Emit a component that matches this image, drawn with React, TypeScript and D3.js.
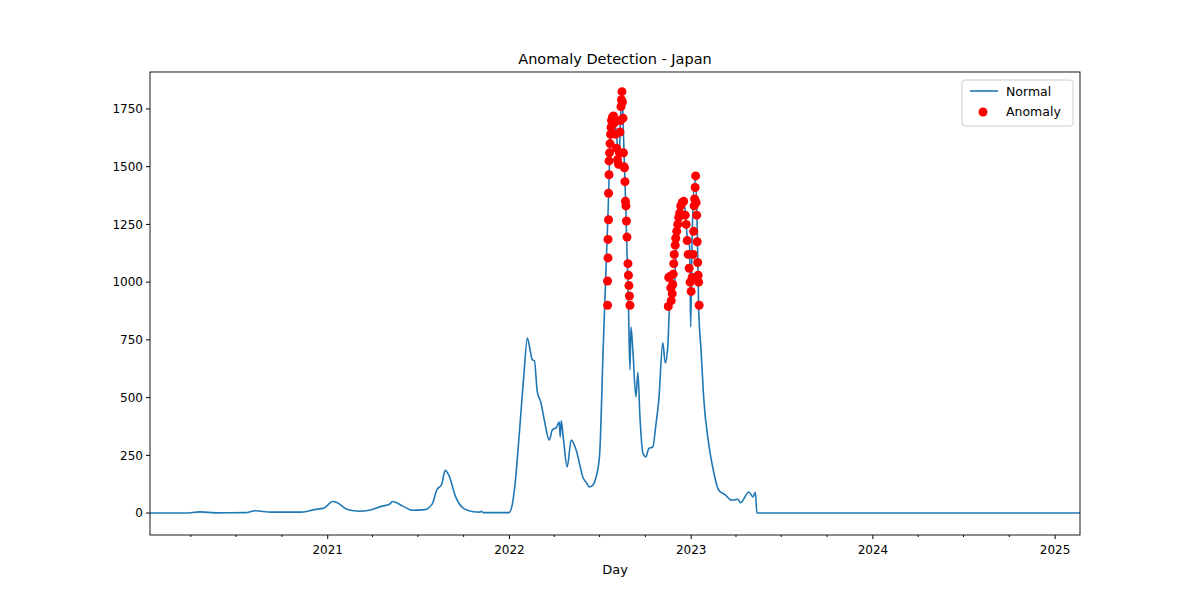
import React from 'react';
import * as d3 from 'd3';

const lineDates = [
  '2020-01-10', '2020-03-20', '2020-04-20', '2020-05-20', '2020-07-20', '2020-08-08', '2020-09-10', '2020-11-10',
  '2020-12-05', '2020-12-25', '2021-01-11', '2021-01-20', '2021-02-10', '2021-03-05', '2021-03-25', '2021-04-20',
  '2021-05-05', '2021-05-11', '2021-06-01', '2021-06-20', '2021-07-15', '2021-07-30', '2021-08-08', '2021-08-18',
  '2021-08-25', '2021-09-01', '2021-09-15', '2021-10-01', '2021-10-20', '2021-11-03', '2021-11-06', '2021-11-09',
  '2021-12-31', '2022-01-06', '2022-01-12', '2022-01-21', '2022-01-30', '2022-02-06', '2022-02-12', '2022-02-16',
  '2022-02-20', '2022-02-26', '2022-03-05', '2022-03-12', '2022-03-22', '2022-03-28', '2022-04-05', '2022-04-11',
  '2022-04-13', '2022-04-15', '2022-04-19', '2022-04-27', '2022-05-05', '2022-05-15', '2022-05-29', '2022-06-05',
  '2022-06-10', '2022-06-17', '2022-06-24', '2022-07-01', '2022-07-08', '2022-07-13', '2022-07-18', '2022-07-24',
  '2022-07-30', '2022-08-04', '2022-08-09', '2022-08-12', '2022-08-15', '2022-08-18', '2022-08-23', '2022-08-28',
  '2022-08-31', '2022-09-02', '2022-09-06', '2022-09-12', '2022-09-16', '2022-09-20', '2022-09-26', '2022-10-02',
  '2022-10-08', '2022-10-16', '2022-10-22', '2022-10-28', '2022-11-05', '2022-11-10', '2022-11-15', '2022-11-18',
  '2022-11-21', '2022-11-27', '2022-12-02', '2022-12-07', '2022-12-12', '2022-12-17', '2022-12-24', '2022-12-29',
  '2022-12-31', '2023-01-03', '2023-01-09', '2023-01-13', '2023-01-16', '2023-01-21', '2023-01-26', '2023-02-05',
  '2023-02-15', '2023-02-25', '2023-03-10', '2023-03-23', '2023-04-05', '2023-04-10', '2023-04-27', '2023-05-05',
  '2023-05-10', '2023-05-13', '2024-01-01', '2025-02-20',
];
const lineValues = [
  0, 0, 5, 1, 2, 10, 4, 4,
  15, 22, 50, 45, 15, 8, 12, 30,
  38, 50, 30, 12, 15, 40, 100, 125,
  185, 165, 70, 20, 6, 4, 8, 2,
  2, 30, 120, 350, 600, 758, 700, 663,
  660, 524, 480, 403, 316, 360, 370, 394,
  330, 400, 330, 200, 316, 273, 152, 130,
  113, 120, 156, 250, 693, 1000, 1300, 1660,
  1700, 1640, 1517, 1700, 1820, 1640, 1300, 900,
  620, 806, 700, 503, 610, 420, 260, 243,
  280, 286, 380, 490, 737, 650, 720, 880,
  1010, 936, 1150, 1256, 1320, 1356, 1200, 1150,
  806, 1200, 1456, 1250, 893, 700, 503, 303,
  180, 100, 80, 56, 60, 45, 91, 70,
  90, 0, 0, 0,
];

const anomalyDates = [
  '2022-07-17', '2022-07-17', '2022-07-18', '2022-07-18', '2022-07-19', '2022-07-19', '2022-07-20', '2022-07-20',
  '2022-07-21', '2022-07-22', '2022-07-23', '2022-07-24', '2022-07-25', '2022-07-27', '2022-07-29', '2022-07-31',
  '2022-08-02', '2022-08-04', '2022-08-06', '2022-08-08', '2022-08-10', '2022-08-11', '2022-08-12', '2022-08-13',
  '2022-08-14', '2022-08-15', '2022-08-16', '2022-08-17', '2022-08-18', '2022-08-19', '2022-08-20', '2022-08-21',
  '2022-08-22', '2022-08-23', '2022-08-24', '2022-08-25', '2022-08-27', '2022-08-28', '2022-08-29', '2022-08-30',
  '2022-08-31',
  '2022-11-16', '2022-11-17', '2022-11-20', '2022-11-21', '2022-11-22', '2022-11-24', '2022-11-25', '2022-11-26',
  '2022-11-27', '2022-11-28', '2022-11-30', '2022-12-01', '2022-12-03', '2022-12-05', '2022-12-07', '2022-12-09',
  '2022-12-11', '2022-12-14', '2022-12-17', '2022-12-20', '2022-12-22', '2022-12-24', '2022-12-26', '2022-12-28',
  '2022-12-30', '2023-01-01', '2023-01-03', '2023-01-05', '2023-01-06', '2023-01-07', '2023-01-08', '2023-01-09',
  '2023-01-10', '2023-01-11', '2023-01-12', '2023-01-13', '2023-01-14', '2023-01-15', '2023-01-16', '2023-01-17',
];
const anomalyValues = [
  900, 1005, 1105, 1185, 1270, 1385, 1465, 1525,
  1560, 1600, 1640, 1670, 1700, 1715, 1720, 1690,
  1640, 1580, 1530, 1510, 1560, 1650, 1700, 1760,
  1790, 1825, 1780, 1710, 1560, 1500, 1495, 1435,
  1350, 1330, 1265, 1195, 1080, 1030, 985, 940,
  900,
  895, 1020, 1025, 975, 920, 950, 990, 1035,
  1080, 1120, 1160, 1190, 1220, 1250, 1280, 1300,
  1330, 1345, 1350, 1290, 1250, 1180, 1120, 1060,
  1000, 960, 1020, 1120, 1220, 1330, 1360, 1410,
  1460, 1345, 1290, 1175, 1085, 1030, 1000, 900,
];

const yTicks = [0, 250, 500, 750, 1000, 1250, 1500, 1750];

const W = 1200, H = 600;
const m = { l: 150, r: 1080, t: 72, b: 535 };
const font = 'DejaVu Sans, sans-serif';
const blue = '#1f77b4';

export default function App() {
  const parse = d3.utcParse('%Y-%m-%d');
  const x = d3.scaleUtc().domain([parse('2020-01-10')!, parse('2025-02-20')!]).range([m.l, m.r]);
  const y = d3.scaleLinear().domain([-95, 1910]).range([m.b, m.t]);
  const pts = lineDates.map((d, i) => [x(parse(d)!), y(lineValues[i])] as [number, number]);
  const line = d3.line().curve(d3.curveMonotoneX)(pts) || '';
  const years = d3.utcYear.range(parse('2021-01-01')!, parse('2025-02-20')!);
  const minors = d3.utcMonth.every(3)!.range(parse('2020-04-01')!, parse('2025-02-20')!)
    .filter((d) => d.getUTCMonth() !== 0);

  return (
    <svg width={W} height={H} style={{ position: 'absolute', left: 0, top: 0 }} fontFamily={font}>
      <rect width={W} height={H} fill="#fff" />
      <defs>
        <clipPath id="c"><rect x={m.l} y={m.t} width={m.r - m.l} height={m.b - m.t} /></clipPath>
      </defs>
      <path d={line} fill="none" stroke={blue} strokeWidth={1.6} clipPath="url(#c)" />
      {anomalyDates.map((d, i) => (
        <circle key={i} cx={x(parse(d)!)} cy={y(anomalyValues[i])} r={4.5} fill="red" />
      ))}
      <rect x={m.l} y={m.t} width={m.r - m.l} height={m.b - m.t} fill="none" stroke="#000" strokeWidth={0.9} />
      {yTicks.map((t) => (
        <g key={t} transform={`translate(${m.l},${y(t)})`}>
          <line x2={-4} stroke="#000" />
          <text x={-7} dy="0.35em" textAnchor="end" fontSize={12}>{t}</text>
        </g>
      ))}
      {years.map((d) => (
        <g key={d.toISOString()} transform={`translate(${x(d)},${m.b})`}>
          <line y2={4} stroke="#000" />
          <text y={19} textAnchor="middle" fontSize={12}>{d.getUTCFullYear()}</text>
        </g>
      ))}
      {minors.map((d) => (
        <line key={d.toISOString()} x1={x(d)} x2={x(d)} y1={m.b} y2={m.b + 2} stroke="#000" />
      ))}
      <text x={(m.l + m.r) / 2} y={574} textAnchor="middle" fontSize={13}>Day</text>
      <text x={(m.l + m.r) / 2} y={64} textAnchor="middle" fontSize={14.5}>Anomaly Detection - Japan</text>
      <g transform="translate(962,80)">
        <rect width={111} height={46} rx={3} fill="#fff" stroke="#ccc" />
        <line x1={8} x2={36} y1={11} y2={11} stroke={blue} strokeWidth={1.6} />
        <text x={44} y={15.5} fontSize={12.5}>Normal</text>
        <circle cx={21} cy={32} r={4.5} fill="red" />
        <text x={44} y={36} fontSize={12.5}>Anomaly</text>
      </g>
    </svg>
  );
}
